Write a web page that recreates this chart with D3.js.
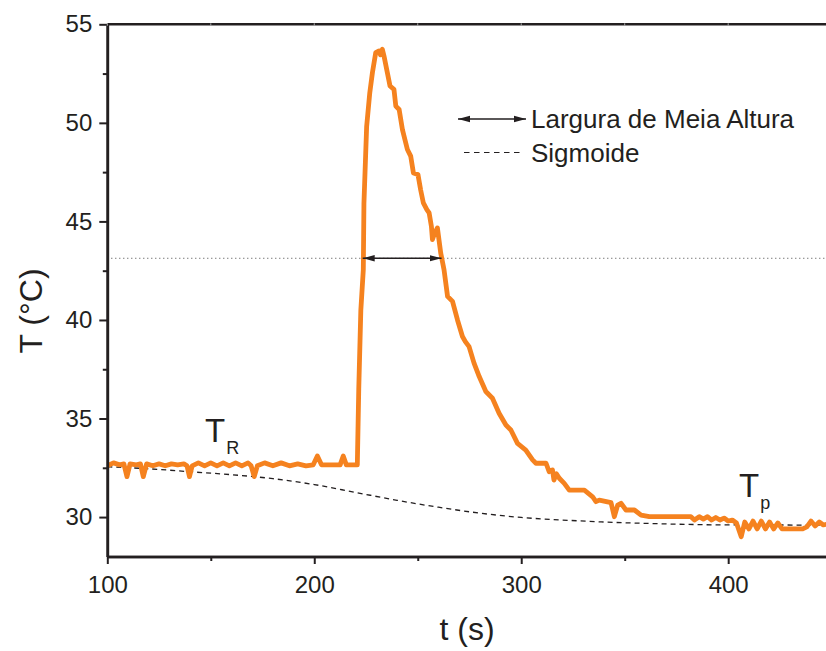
<!DOCTYPE html>
<html>
<head>
<meta charset="utf-8">
<script src="https://cdn.jsdelivr.net/npm/d3@7"></script>
<style>
  body { margin: 0; background: #fff; }
  svg { display: block; font-family: "Liberation Sans", Arial, sans-serif; }
</style>
</head>
<body>
<div id="chart"></div>
<script>
const width = 826;
const height = 651;

// measured temperature (orange trace)
const timeS = [100, 103, 106, 108, 109.5, 111, 114, 116, 117.4, 119, 122, 125, 128, 131, 134, 137, 138.5, 139.7, 141, 144,
  147, 150, 153, 156, 159, 162, 165, 168, 169.5, 171, 172.5, 176, 180, 184, 188, 192, 196, 199.5, 201.5, 203.5,
  208, 212.5, 214, 215.5, 219, 220.8, 221.5, 222.5, 223.7, 224.0, 225.3, 226.8, 228.1, 229.7, 231.3, 232.0, 232.9, 233.7, 235.3, 236.6,
  238.5, 239.4, 241, 242.6, 245, 246.6, 247.9, 250.1, 251.4, 252.7, 254.4, 255.5, 256.6, 257.1, 258.2, 259.5, 261.1, 262.7, 264.4, 266.8,
  269.2, 271.6, 273, 274.8, 277.2, 279.7, 282.9, 286.1, 289.3, 292.6, 295, 298.2, 302.2, 305.5, 307.1, 312, 313.5, 315.1, 315.8, 317,
  318.4, 320.8, 323.2, 330.5, 334.5, 336.1, 337.7, 343.4, 345, 346.6, 348.2, 350.6, 354.7, 357.9, 361.9, 382, 383.7, 386, 388, 390,
  392, 394, 396, 398, 400, 402, 404, 406.3, 408, 410, 412, 414, 416, 418, 420, 422, 424, 426, 436, 438,
  440, 442, 444, 446, 448];
const tempC = [32.6, 32.75, 32.65, 32.7, 32.05, 32.7, 32.65, 32.7, 32.05, 32.7, 32.6, 32.7, 32.6, 32.7, 32.65, 32.7, 32.6, 32.05, 32.6, 32.75,
  32.6, 32.75, 32.6, 32.75, 32.6, 32.75, 32.6, 32.75, 32.6, 32.05, 32.6, 32.75, 32.6, 32.75, 32.6, 32.7, 32.6, 32.65, 33.1, 32.65,
  32.65, 32.65, 33.1, 32.65, 32.65, 32.65, 36.5, 40.5, 42.55, 45.9, 49.8, 51.5, 52.55, 53.56, 53.65, 53.45, 53.73, 53.39, 52.55, 51.87,
  51.7, 50.85, 50.68, 49.66, 48.65, 48.31, 47.46, 47.38, 46.6, 45.94, 45.6, 45.43, 44.75, 44.08, 44.41, 44.67, 43.4, 42.55, 41.2, 40.94,
  40.0, 39.16, 38.9, 38.65, 37.81, 37.13, 36.37, 36.03, 35.27, 34.67, 34.42, 33.74, 33.4, 32.9, 32.73, 32.73, 32.3, 32.39, 31.88, 32.2,
  31.97, 31.71, 31.37, 31.37, 31.03, 30.78, 30.86, 30.73, 30.02, 30.61, 30.7, 30.36, 30.36, 30.1, 30.02, 30.02, 29.85, 30.02, 29.9, 30.02,
  29.85, 29.98, 29.85, 29.95, 29.8, 29.85, 29.7, 29.0, 29.75, 29.4, 29.8, 29.4, 29.8, 29.4, 29.75, 29.4, 29.7, 29.4, 29.4, 29.5,
  29.8, 29.55, 29.75, 29.6, 29.65];

// sigmoid fit (dashed)
const sigTime = [100, 120, 140, 160, 180, 200, 220, 240, 260, 280, 300, 320, 340, 360, 380, 400, 420, 448];
const sigTemp = [32.55, 32.45, 32.3, 32.15, 31.95, 31.65, 31.25, 30.85, 30.5, 30.2, 29.98, 29.85, 29.75, 29.68, 29.63, 29.6, 29.6, 29.58];

// half maximum level and width
const halfMax = 43.13;
const fwhmStart = 223.4;
const fwhmEnd = 261.5;

const xMajor = [100, 200, 300, 400];
const xMinor = [150, 250, 350];
const yMajor = [30, 35, 40, 45, 50, 55];
const yMinor = [32.5, 37.5, 42.5, 47.5, 52.5];

const legendItems = ["Largura de Meia Altura", "Sigmoide"];

const ink = "#231f20";
const orange = "#f5821f";

const plotL = 107.3, plotR = 826.5, plotT = 24.3, plotB = 556.5;

const x = d3.scaleLinear().domain([100, 447.5]).range([plotL, plotR]);
const y = d3.scaleLinear().domain([28, 55]).range([plotB, plotT]);

const svg = d3.select("#chart").append("svg")
    .attr("width", width)
    .attr("height", height);

const defs = svg.append("defs");
defs.append("clipPath").attr("id", "plot")
  .append("rect")
    .attr("x", plotL).attr("y", plotT)
    .attr("width", plotR - plotL).attr("height", plotB - plotT);

defs.append("marker")
    .attr("id", "head")
    .attr("markerUnits", "userSpaceOnUse")
    .attr("viewBox", "0 0 12 8")
    .attr("refX", 12).attr("refY", 4)
    .attr("markerWidth", 12).attr("markerHeight", 8)
    .attr("orient", "auto-start-reverse")
  .append("path")
    .attr("d", "M0,0.8 L12,4 L0,7.2 Z")
    .attr("fill", ink);

// half max dotted line
svg.append("line")
    .attr("x1", plotL).attr("x2", plotR)
    .attr("y1", y(halfMax)).attr("y2", y(halfMax))
    .attr("stroke", "#444")
    .attr("stroke-width", 1)
    .attr("stroke-dasharray", "1,3");

// sigmoid
const sigData = sigTime.map((t, i) => [t, sigTemp[i]]);
svg.append("path")
    .datum(sigData)
    .attr("clip-path", "url(#plot)")
    .attr("fill", "none")
    .attr("stroke", ink)
    .attr("stroke-width", 1.3)
    .attr("stroke-dasharray", "5,4")
    .attr("d", d3.line().x(d => x(d[0])).y(d => y(d[1])).curve(d3.curveMonotoneX));

// measured trace
const tempData = timeS.map((t, i) => [t, tempC[i]]);
svg.append("path")
    .datum(tempData)
    .attr("clip-path", "url(#plot)")
    .attr("fill", "none")
    .attr("stroke", orange)
    .attr("stroke-width", 4.8)
    .attr("stroke-linejoin", "round")
    .attr("d", d3.line().x(d => x(d[0])).y(d => y(d[1])));

// width arrow
svg.append("line")
    .attr("x1", x(fwhmStart)).attr("x2", x(fwhmEnd))
    .attr("y1", y(halfMax)).attr("y2", y(halfMax))
    .attr("stroke", ink)
    .attr("stroke-width", 1.3)
    .attr("marker-start", "url(#head)")
    .attr("marker-end", "url(#head)");

// axes
const styleAxis = g => {
  g.selectAll("path.domain").attr("stroke", ink).attr("stroke-width", 2.6);
  g.selectAll(".tick line").attr("stroke", ink).attr("stroke-width", 2);
  g.selectAll(".tick text").attr("fill", ink).style("font-size", "24px").style("font-family", "Liberation Sans, Arial, sans-serif");
};

svg.append("g")
    .attr("transform", `translate(0,${plotB})`)
    .call(d3.axisBottom(x).tickValues(xMinor).tickSize(4.5).tickSizeOuter(0).tickFormat(""))
    .call(styleAxis);
svg.append("g")
    .attr("transform", `translate(0,${plotB})`)
    .call(d3.axisBottom(x).tickValues(xMajor).tickSize(7.5).tickSizeOuter(0).tickPadding(12).tickFormat(d3.format("d")))
    .call(styleAxis);

svg.append("g")
    .attr("transform", `translate(${plotL},0)`)
    .call(d3.axisLeft(y).tickValues(yMinor).tickSize(4.5).tickSizeOuter(0).tickFormat(""))
    .call(styleAxis);
svg.append("g")
    .attr("transform", `translate(${plotL},0)`)
    .call(d3.axisLeft(y).tickValues(yMajor).tickSize(8).tickSizeOuter(0).tickPadding(7).tickFormat(d3.format("d")))
    .call(styleAxis);

// top frame line with faint ticks
svg.append("line")
    .attr("x1", plotL).attr("x2", plotR)
    .attr("y1", plotT).attr("y2", plotT)
    .attr("stroke", ink).attr("stroke-width", 2.4);
svg.append("g")
    .selectAll("line")
    .data(xMajor.concat(xMinor))
    .join("line")
    .attr("x1", d => x(d)).attr("x2", d => x(d))
    .attr("y1", plotT - 1).attr("y2", plotT + 1.5)
    .attr("stroke", "#aaa").attr("stroke-width", 1);

// axis titles
svg.append("text")
    .attr("transform", "translate(42,311) rotate(-90)")
    .attr("text-anchor", "middle")
    .attr("fill", ink)
    .style("font-size", "32px")
    .text("T (°C)");

svg.append("text")
    .attr("x", 467).attr("y", 640)
    .attr("text-anchor", "middle")
    .attr("fill", ink)
    .style("font-size", "32px")
    .text("t (s)");

// T_R and T_p labels
const subLabel = (px, py, sub) => {
  const t = svg.append("text")
      .attr("x", px).attr("y", py)
      .attr("fill", ink)
      .style("font-size", "33px");
  t.append("tspan").text("T");
  t.append("tspan")
      .attr("dx", 1).attr("dy", 12)
      .style("font-size", "18px")
      .text(sub);
};
subLabel(205, 442, "R");
subLabel(739, 497, "p");

// legend
const legend = svg.append("g");
legend.append("line")
    .attr("x1", 458).attr("x2", 526)
    .attr("y1", 119).attr("y2", 119)
    .attr("stroke", ink).attr("stroke-width", 1.3)
    .attr("marker-start", "url(#head)")
    .attr("marker-end", "url(#head)");
legend.append("line")
    .attr("x1", 464).attr("x2", 523)
    .attr("y1", 152.5).attr("y2", 152.5)
    .attr("stroke", ink).attr("stroke-width", 1.2)
    .attr("stroke-dasharray", "5.5,4.5");
legend.selectAll("text.item")
    .data(legendItems)
    .join("text")
    .attr("class", "item")
    .attr("x", 531)
    .attr("y", (d, i) => 128.3 + i * 33.4)
    .attr("fill", ink)
    .style("font-size", "26px")
    .text(d => d);
</script>
</body>
</html>
